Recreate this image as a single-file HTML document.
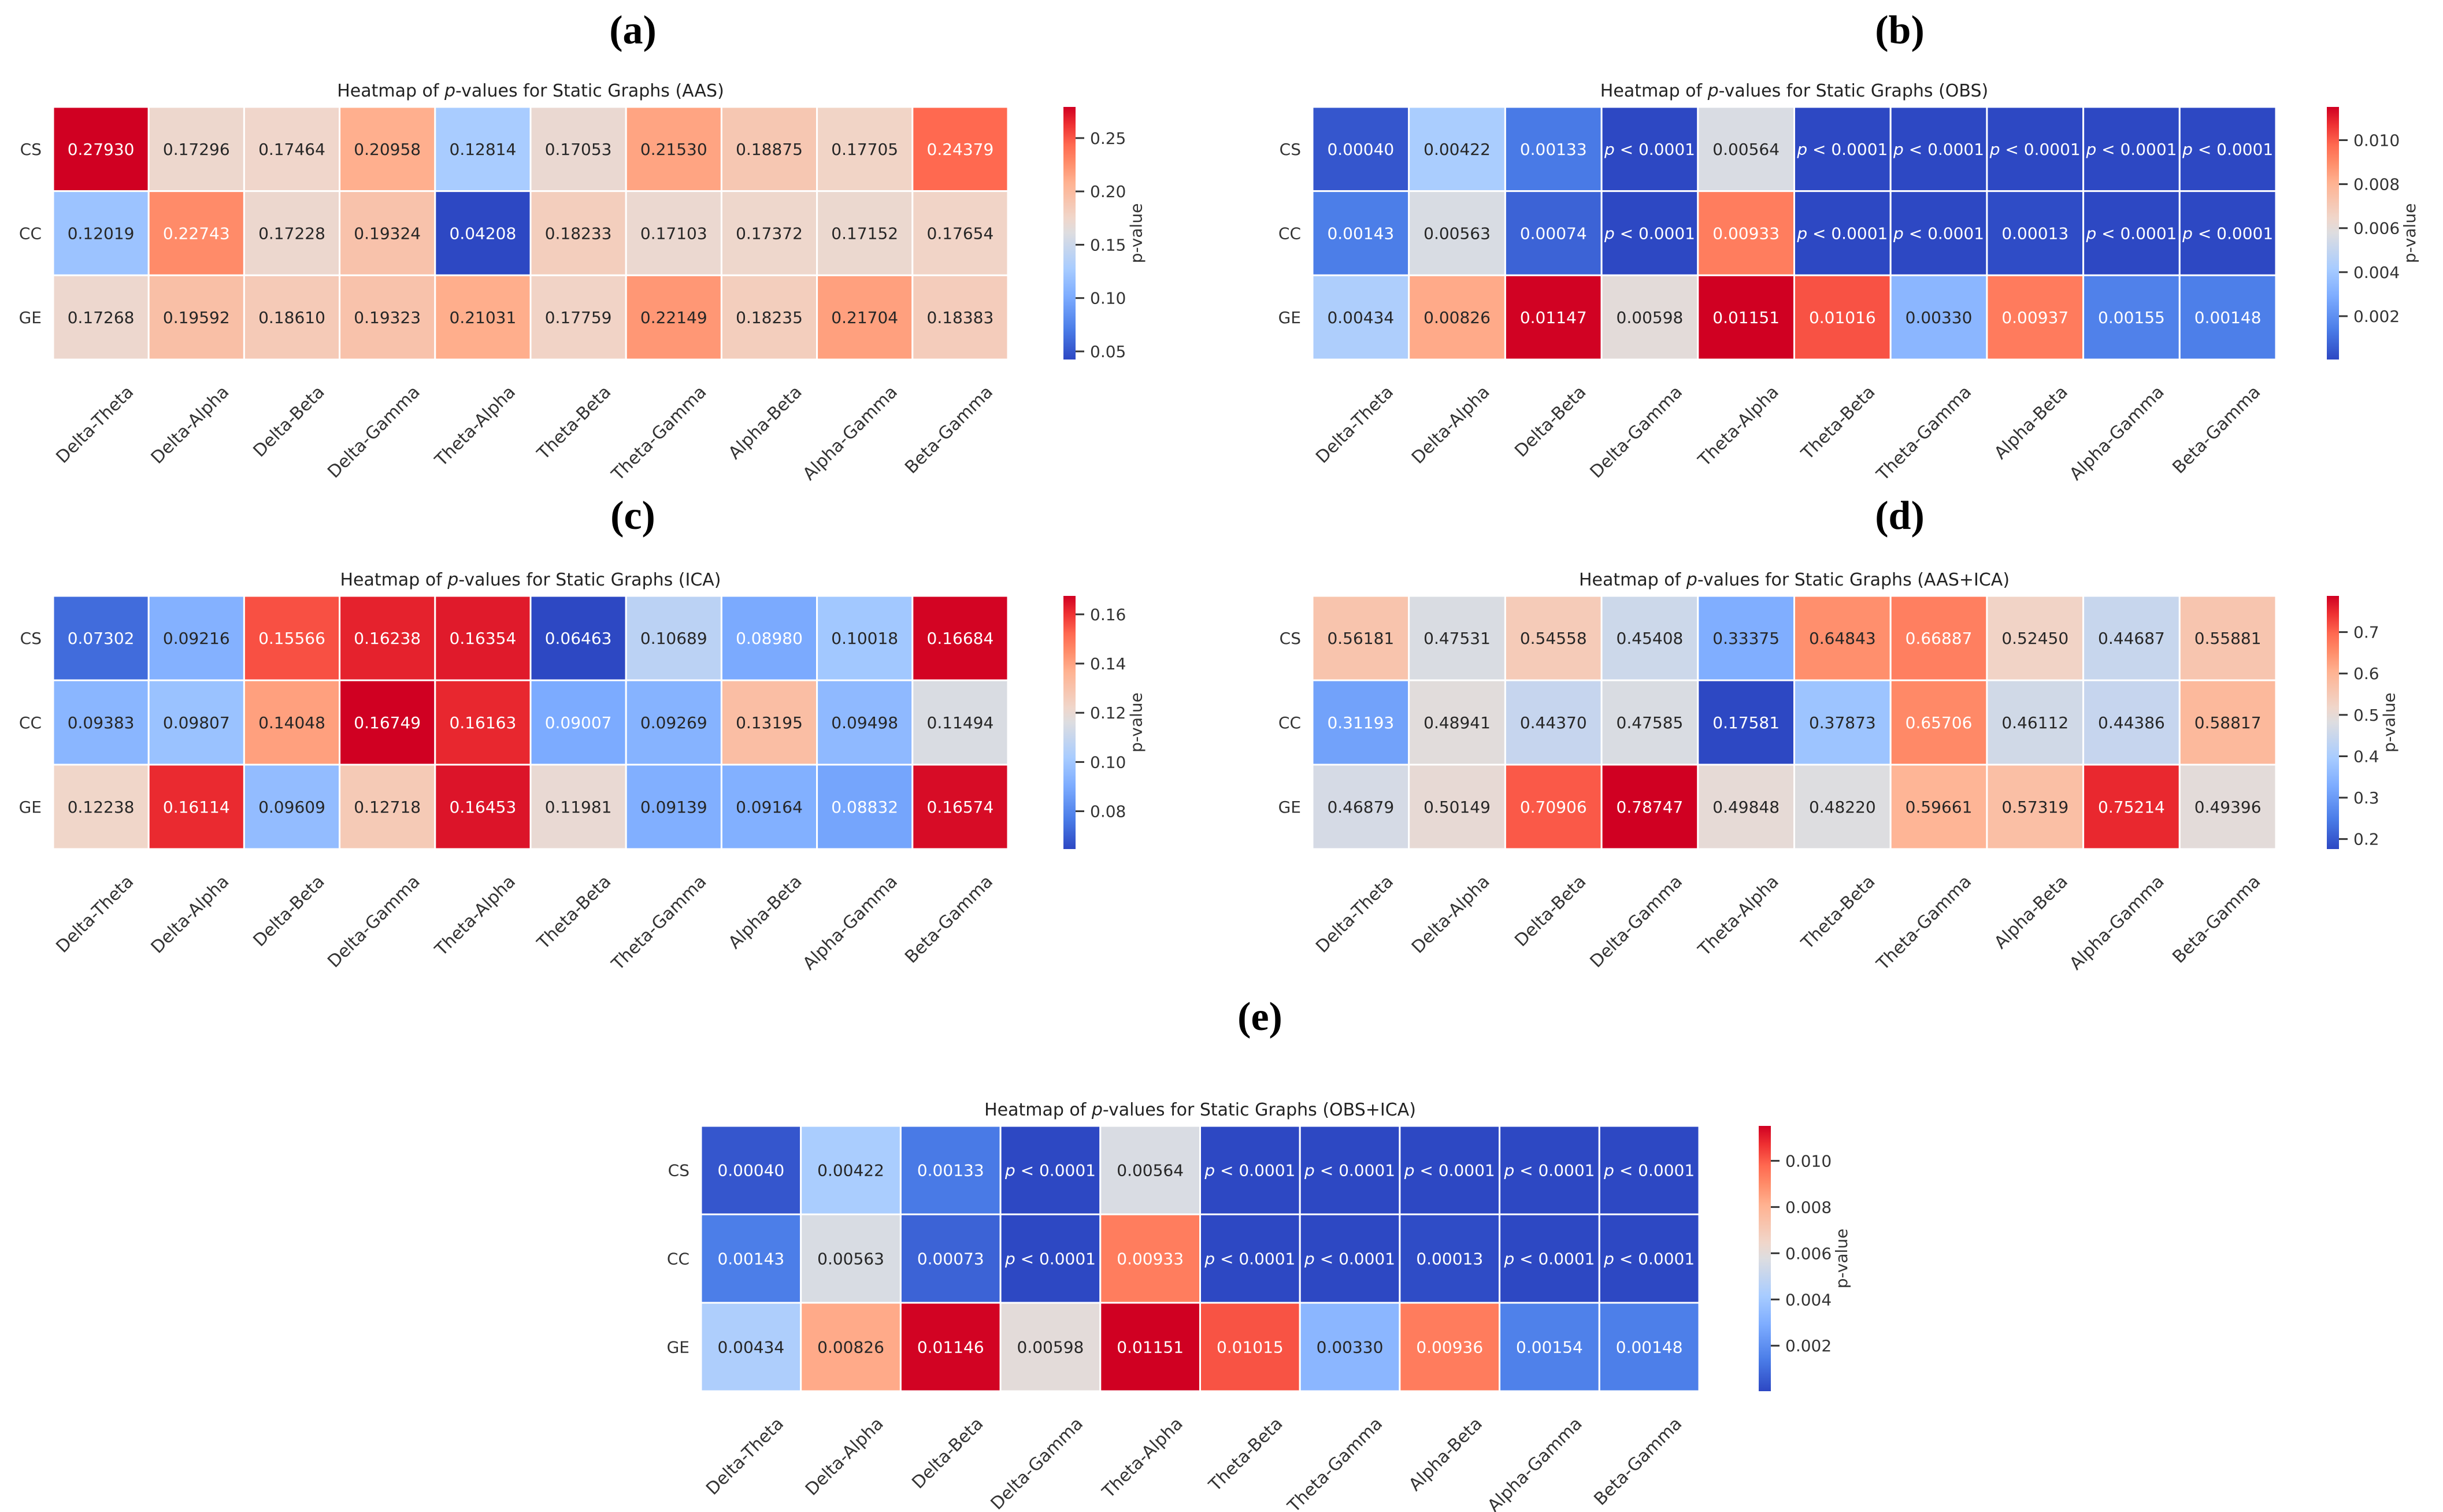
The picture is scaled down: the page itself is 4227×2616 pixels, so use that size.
<!DOCTYPE html>
<html><head><meta charset="utf-8">
<style>
html,body{margin:0;padding:0;background:#fff;}
svg{display:block;}
</style></head>
<body>
<svg id="fig" width="4227" height="2616" viewBox="0 0 4227 2616" xmlns="http://www.w3.org/2000/svg"></svg>
<script>
const categories = ["Delta-Theta","Delta-Alpha","Delta-Beta","Delta-Gamma","Theta-Alpha","Theta-Beta","Theta-Gamma","Alpha-Beta","Alpha-Gamma","Beta-Gamma"];
const rowLabels = ["CS","CC","GE"];
// null = p < 0.0001
const aasValues = [
 [0.27930,0.17296,0.17464,0.20958,0.12814,0.17053,0.21530,0.18875,0.17705,0.24379],
 [0.12019,0.22743,0.17228,0.19324,0.04208,0.18233,0.17103,0.17372,0.17152,0.17654],
 [0.17268,0.19592,0.18610,0.19323,0.21031,0.17759,0.22149,0.18235,0.21704,0.18383]];
const obsValues = [
 [0.00040,0.00422,0.00133,null,0.00564,null,null,null,null,null],
 [0.00143,0.00563,0.00074,null,0.00933,null,null,0.00013,null,null],
 [0.00434,0.00826,0.01147,0.00598,0.01151,0.01016,0.00330,0.00937,0.00155,0.00148]];
const icaValues = [
 [0.07302,0.09216,0.15566,0.16238,0.16354,0.06463,0.10689,0.08980,0.10018,0.16684],
 [0.09383,0.09807,0.14048,0.16749,0.16163,0.09007,0.09269,0.13195,0.09498,0.11494],
 [0.12238,0.16114,0.09609,0.12718,0.16453,0.11981,0.09139,0.09164,0.08832,0.16574]];
const aasIcaValues = [
 [0.56181,0.47531,0.54558,0.45408,0.33375,0.64843,0.66887,0.52450,0.44687,0.55881],
 [0.31193,0.48941,0.44370,0.47585,0.17581,0.37873,0.65706,0.46112,0.44386,0.58817],
 [0.46879,0.50149,0.70906,0.78747,0.49848,0.48220,0.59661,0.57319,0.75214,0.49396]];
const obsIcaValues = [
 [0.00040,0.00422,0.00133,null,0.00564,null,null,null,null,null],
 [0.00143,0.00563,0.00073,null,0.00933,null,null,0.00013,null,null],
 [0.00434,0.00826,0.01146,0.00598,0.01151,0.01015,0.00330,0.00936,0.00154,0.00148]];
const aasTicks = ["0.05","0.10","0.15","0.20","0.25"];
const obsTicks = ["0.002","0.004","0.006","0.008","0.010"];
const icaTicks = ["0.08","0.10","0.12","0.14","0.16"];
const aasIcaTicks = ["0.2","0.3","0.4","0.5","0.6","0.7"];

const STOPS=[[0,[45,72,195]],[0.12,[75,125,232]],[0.25,[125,172,255]],[0.36,[168,204,255]],[0.5,[221,221,224]],[0.56,[240,214,202]],[0.7,[255,178,145]],[0.78,[255,140,105]],[0.85,[255,105,80]],[0.93,[238,48,50]],[1,[208,0,34]]];
function cmap(t){t=Math.max(0,Math.min(1,t));
 for(let i=0;i<STOPS.length-1;i++){const a=STOPS[i],b=STOPS[i+1];
  if(t<=b[0]){const r=(t-a[0])/(b[0]-a[0]);return a[1].map((c,k)=>Math.round(c+(b[1][k]-c)*r));}}
 return STOPS[STOPS.length-1][1];}
function lum(c){const l=c.map(v=>{v/=255;return v<=0.03928?v/12.92:Math.pow((v+0.055)/1.055,2.4)});return 0.2126*l[0]+0.7152*l[1]+0.0722*l[2];}

const NS="http://www.w3.org/2000/svg";
const svg=document.getElementById('fig');
function mk(tag,attrs,parent,text){const e=document.createElementNS(NS,tag);for(const k in attrs)e.setAttribute(k,attrs[k]);if(text!==undefined)e.textContent=text;(parent||svg).appendChild(e);return e;}
const FONT='"DejaVu Sans","Liberation Sans",sans-serif';
const defs=mk('defs',{});
const grad=mk('linearGradient',{id:'cw',x1:0,y1:1,x2:0,y2:0},defs);
STOPS.forEach(s=>{mk('stop',{offset:s[0],'stop-color':'rgb('+s[1].join(',')+')'},grad);});

const panels=[
 {id:'a',name:'AAS',vals:aasValues,ticks:aasTicks,vmin:0.0424,vmax:0.2792,x0:92,x1:1744,y0:185,y1:622,cbx:1840,lab:'(a)',labX:1095,labY:75},
 {id:'b',name:'OBS',vals:obsValues,ticks:obsTicks,vmin:0.00003,vmax:0.01151,x0:2271,x1:3938,y0:185,y1:622,cbx:4026,lab:'(b)',labX:3287,labY:75},
 {id:'c',name:'ICA',vals:icaValues,ticks:icaTicks,vmin:0.06463,vmax:0.16749,x0:92,x1:1744,y0:1031,y1:1469,cbx:1840,lab:'(c)',labX:1095,labY:915},
 {id:'d',name:'AAS+ICA',vals:aasIcaValues,ticks:aasIcaTicks,vmin:0.17581,vmax:0.78747,x0:2271,x1:3938,y0:1031,y1:1469,cbx:4026,lab:'(d)',labX:3287,labY:915},
 {id:'e',name:'OBS+ICA',vals:obsIcaValues,ticks:obsTicks,vmin:0.00003,vmax:0.01151,x0:1213,x1:2940,y0:1948,y1:2407,cbx:3043,lab:'(e)',labX:2180,labY:1782}
];

function textW(s){let w=0;for(const ch of s)w+=(ch==='.'?0.318:0.636);return w*28;}

panels.forEach(p=>{
 const g=mk('g',{});
 
 
 const lab=mk('text',{x:p.labX,y:p.labY,'text-anchor':'middle','font-family':'"Liberation Serif",serif','font-size':70,'font-weight':'bold',fill:'#000'},g,p.lab);
 
 
 const title=mk('text',{x:(p.x0+p.x1)/2,y:p.y0-18,'text-anchor':'middle','font-family':FONT,'font-size':30,fill:'#222'},g);
 
 
 mk('tspan',{},title,'Heatmap of ');
 mk('tspan',{'font-style':'italic'},title,'p');
 mk('tspan',{},title,'-values for Static Graphs ('+p.name+')');
 const nC=categories.length,nR=rowLabels.length;
 const cw=(p.x1-p.x0)/nC,ch=(p.y1-p.y0)/nR;
 const xs=i=>p.x0+i*cw, ys=j=>p.y0+j*ch;
 const norm=v=>(v===null?0:(v-p.vmin)/(p.vmax-p.vmin));
 for(let r=0;r<nR;r++){
  const rl=mk('text',{x:p.x0-20,y:ys(r)+ch/2+10,'text-anchor':'end','font-family':FONT,'font-size':28,fill:'#333'},g,rowLabels[r]);
  
  
  for(let c=0;c<nC;c++){
   const v=p.vals[r][c];const col=cmap(norm(v));
   const rect=mk('rect',{x:xs(c),y:ys(r),width:cw,height:ch,fill:'rgb('+col.join(',')+')',stroke:'#fff','stroke-width':3},g);
   
   
   const tc=lum(col)>0.408?'#262626':'#fff';
   const t=mk('text',{x:xs(c)+cw/2,y:ys(r)+ch/2+10,'text-anchor':'middle','font-family':FONT,'font-size':28,fill:tc},g);
   
   
   if(v===null){mk('tspan',{'font-style':'italic'},t,'p');mk('tspan',{},t,' < 0.0001');}
   else t.textContent=v.toFixed(5);
  }
 }
 for(let c=0;c<nC;c++){
  const ax=xs(c)+cw/2+58, ay=p.y1+58;
  const t=mk('text',{x:ax,y:ay,'text-anchor':'end','font-family':FONT,'font-size':30,fill:'#333',transform:'rotate(-45 '+ax+' '+ay+')'},g,categories[c]);
  
  
 }
 const cb=mk('rect',{x:p.cbx,y:p.y0,width:21,height:p.y1-p.y0,fill:'url(#cw)'},g);
 
 
 const cy=v=>p.y1-(v-p.vmin)/(p.vmax-p.vmin)*(p.y1-p.y0);
 let maxW=0;
 p.ticks.forEach(tk=>{
  const y=cy(parseFloat(tk));
  mk('line',{x1:p.cbx+21,x2:p.cbx+36,y1:y,y2:y,stroke:'#333','stroke-width':3},g);
  const tl=mk('text',{x:p.cbx+46,y:y+10,'font-family':FONT,'font-size':28,fill:'#333'},g,tk);
  
  
  maxW=Math.max(maxW,textW(tk));
 });
 const px=p.cbx+46+maxW+27,py=(p.y0+p.y1)/2;
 const pl=mk('text',{x:px,y:py,'text-anchor':'middle','font-family':FONT,'font-size':28,fill:'#333',transform:'rotate(-90 '+px+' '+py+')'},g,'p-value');
 
 
});
</script>
</body></html>
